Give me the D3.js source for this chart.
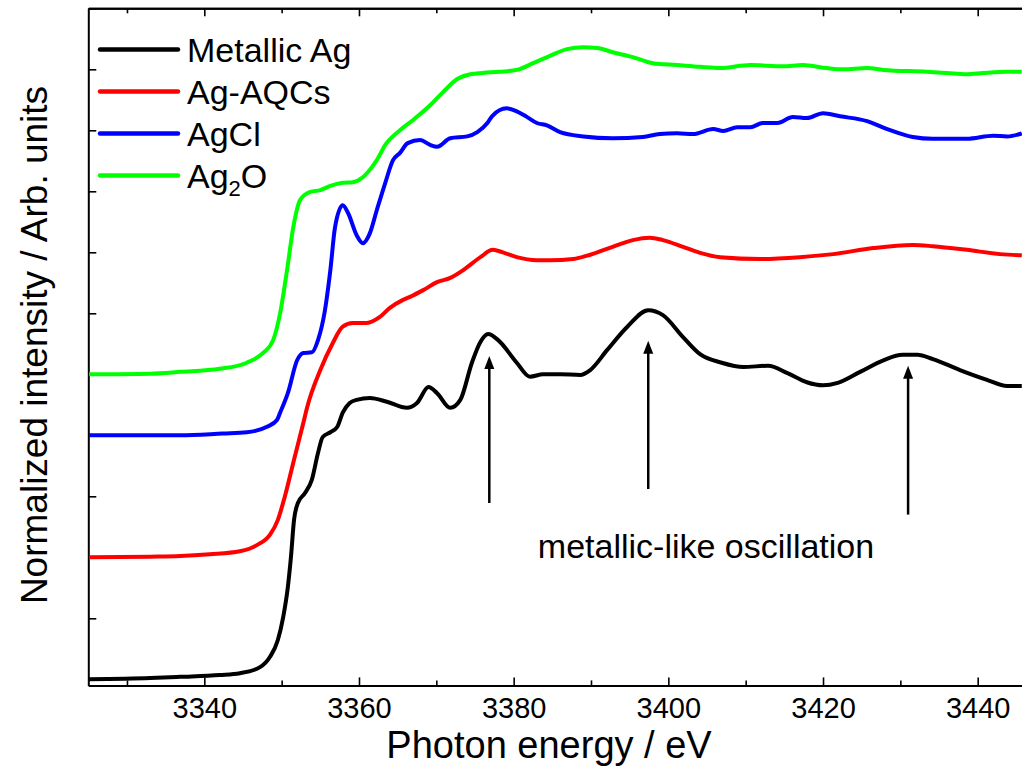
<!DOCTYPE html>
<html>
<head>
<meta charset="utf-8">
<script src="https://cdn.jsdelivr.net/npm/d3@7"></script>
<style>
  body { margin: 0; background: #fff; }
  text { font-family: "Liberation Sans", Arial, sans-serif; }
</style>
</head>
<body>
<div id="chart"></div>
<script>
// series names and colours
let seriesNames = ["Metallic Ag", "Ag-AQCs", "AgCl", "Ag2O"];
let seriesColors = ["#000000", "#ff0000", "#0000ff", "#00ff00"];

// photon energy (eV) / normalized intensity (offset, arb. units)
let agE = [3325.1,3333.0,3336.9,3342.0,3344.6,3347.2,3348.5,3349.5,3350.2,3350.8,3351.2,3351.6,3352.1,3353.0,3353.9,3354.7,3355.3,3356.3,3357.2,3357.9,3358.8,3359.7,3361.4,3363.6,3366.2,3367.5,3369.0,3370.1,3371.8,3373.1,3374.6,3375.7,3376.7,3378.0,3380.4,3382.1,3383.8,3386.0,3388.6,3389.9,3392.1,3394.7,3397.4,3399.3,3401.9,3404.1,3406.9,3409.7,3412.9,3415.4,3417.9,3420.0,3421.9,3424.8,3427.8,3430.3,3432.2,3434.2,3437.7,3441.2,3443.8,3445.7];
let agI = [0.00,0.02,0.04,0.07,0.10,0.20,0.37,0.64,1.02,1.51,2.00,2.61,2.89,3.05,3.27,3.71,3.97,4.05,4.14,4.37,4.53,4.58,4.61,4.55,4.45,4.53,4.79,4.69,4.45,4.58,5.19,5.53,5.66,5.56,5.19,4.96,5.00,5.00,4.99,5.07,5.40,5.78,6.05,5.97,5.61,5.33,5.19,5.12,5.14,5.02,4.87,4.82,4.86,5.04,5.23,5.32,5.32,5.25,5.07,4.91,4.81,4.81];

let aqcE = [3325.1,3333.0,3336.9,3340.7,3344.6,3346.8,3348.5,3349.5,3350.4,3351.6,3352.8,3353.3,3355.0,3356.6,3357.9,3359.2,3361.0,3362.7,3364.0,3365.7,3366.6,3368.3,3370.1,3371.8,3373.5,3375.7,3377.3,3378.6,3380.4,3383.0,3384.7,3387.7,3389.9,3392.8,3395.4,3397.6,3399.3,3401.9,3404.1,3406.7,3411.9,3417.0,3421.3,3426.5,3431.6,3434.2,3438.6,3442.9,3445.7];
let aqcI = [2.00,2.01,2.02,2.05,2.10,2.20,2.37,2.61,2.99,3.60,4.20,4.46,5.07,5.51,5.78,5.84,5.84,5.94,6.09,6.22,6.27,6.38,6.51,6.58,6.71,6.92,7.04,7.00,6.92,6.87,6.87,6.89,6.96,7.09,7.20,7.24,7.20,7.09,6.99,6.92,6.89,6.92,6.97,7.07,7.12,7.10,7.04,6.97,6.95];

let clE = [3325.1,3333.0,3336.9,3342.4,3345.5,3348.1,3349.4,3349.8,3350.8,3352.0,3352.8,3353.9,3354.7,3355.6,3356.3,3356.9,3357.9,3358.6,3359.7,3360.5,3361.4,3362.3,3363.4,3364.4,3365.3,3366.3,3367.9,3369.2,3370.1,3371.8,3374.0,3375.3,3376.6,3377.2,3379.1,3380.4,3381.7,3383.0,3384.3,3386.0,3389.0,3392.8,3396.7,3398.9,3401.1,3403.2,3405.8,3407.1,3408.9,3410.6,3412.2,3414.1,3416.1,3417.9,3420.0,3422.2,3425.7,3428.3,3431.6,3434.2,3438.6,3442.0,3443.8,3445.7];
let clI = [4.00,4.00,4.00,4.03,4.05,4.14,4.25,4.37,4.69,5.23,5.35,5.36,5.56,6.05,6.71,7.41,7.77,7.64,7.28,7.15,7.31,7.69,8.14,8.51,8.63,8.79,8.84,8.76,8.73,8.87,8.90,8.97,9.12,9.23,9.36,9.31,9.22,9.12,9.08,8.97,8.90,8.87,8.89,8.94,8.95,8.94,9.02,8.99,9.05,9.05,9.12,9.12,9.22,9.20,9.28,9.23,9.15,9.02,8.89,8.86,8.86,8.91,8.90,8.95];

let oxE = [3325.1,3333.0,3336.9,3342.0,3345.5,3347.6,3348.9,3349.8,3350.7,3351.5,3352.4,3353.7,3355.0,3356.3,3357.9,3359.2,3360.5,3361.7,3362.3,3363.4,3365.3,3367.0,3369.2,3370.9,3372.7,3374.4,3376.0,3378.2,3380.4,3382.5,3384.7,3386.9,3389.0,3390.8,3392.8,3395.4,3398.0,3401.1,3404.1,3406.7,3410.6,3414.8,3417.4,3420.5,3422.6,3425.7,3427.8,3433.4,3436.0,3438.6,3440.7,3443.8,3445.7];
let oxI = [5.00,5.01,5.04,5.09,5.19,5.35,5.56,6.00,6.71,7.41,7.86,7.99,8.02,8.09,8.14,8.15,8.23,8.40,8.51,8.76,9.00,9.17,9.41,9.63,9.84,9.92,9.94,9.96,9.99,10.10,10.22,10.33,10.36,10.35,10.28,10.20,10.10,10.07,10.04,10.02,10.07,10.05,10.07,10.02,10.00,10.02,9.99,9.96,9.94,9.92,9.94,9.96,9.96];

// arrows: energy, tail, tip
let arrowE = [3376.85, 3397.4, 3431.0];
let arrowFrom = [2.89, 3.12, 2.70];
let arrowTo = [5.30, 5.55, 5.14];

let xMajor = [3340, 3360, 3380, 3400, 3420, 3440];
let xMinor = [3330, 3350, 3370, 3390, 3410, 3430];
let yTicks = [0,1,2,3,4,5,6,7,8,9,10,11];

let viz = d3.select("#chart").append("svg")
    .attr("width", 1022)
    .attr("height", 771);

let x = d3.scaleLinear().domain([3325, 3446]).range([88.3, 1024.1]);
let y = d3.scaleLinear().domain([-0.1, 11]).range([685.4, 8.3]);

// axes, ticks pointing in
let xAxis = viz.append("g")
    .attr("transform", "translate(0," + y(-0.1) + ")")
    .call(d3.axisBottom(x).tickValues(xMajor).tickSize(-8).tickSizeOuter(0).tickPadding(12).tickFormat(d3.format("d")));
viz.append("g")
    .attr("transform", "translate(0," + y(-0.1) + ")")
    .call(d3.axisBottom(x).tickValues(xMinor).tickSize(-5).tickSizeOuter(0).tickFormat(""));
viz.append("g")
    .attr("transform", "translate(0," + y(11) + ")")
    .call(d3.axisTop(x).tickValues(xMajor).tickSize(-8).tickSizeOuter(0).tickFormat(""));
viz.append("g")
    .attr("transform", "translate(0," + y(11) + ")")
    .call(d3.axisTop(x).tickValues(xMinor).tickSize(-5).tickSizeOuter(0).tickFormat(""));
viz.append("g")
    .attr("transform", "translate(" + x(3325) + ",0)")
    .call(d3.axisLeft(y).tickValues(yTicks).tickSize(-8).tickSizeOuter(0).tickFormat(""));

viz.selectAll(".domain").attr("stroke", "#000").attr("stroke-width", 2);
viz.selectAll(".tick line").attr("stroke", "#000").attr("stroke-width", 1.6);
xAxis.selectAll("text")
    .attr("font-size", 29)
    .attr("fill", "#000")
    .style("font-family", "Liberation Sans, Arial, sans-serif");

// curves
let allE = [agE, aqcE, clE, oxE];
let allI = [agI, aqcI, clI, oxI];
let line = d3.line()
    .x(d => x(d[0]))
    .y(d => y(d[1]))
    .curve(d3.curveMonotoneX);

for (let k = 3; k >= 0; k--) {
  let pts = allE[k].map((e, i) => [e, allI[k][i]]);
  viz.append("path")
      .datum(pts)
      .attr("d", line)
      .attr("fill", "none")
      .attr("stroke", seriesColors[k])
      .attr("stroke-width", 4)
      .attr("stroke-linejoin", "round");
}

// arrows
arrowE.forEach((e, i) => {
  viz.append("line")
      .attr("x1", x(e)).attr("x2", x(e))
      .attr("y1", y(arrowFrom[i])).attr("y2", y(arrowTo[i]) + 10)
      .attr("stroke", "#000").attr("stroke-width", 2.5);
  viz.append("path")
      .attr("d", "M" + (x(e) - 5) + "," + (y(arrowTo[i]) + 13) + " L" + x(e) + "," + y(arrowTo[i]) + " L" + (x(e) + 5) + "," + (y(arrowTo[i]) + 13) + " Z")
      .attr("fill", "#000");
});

viz.append("text")
    .attr("x", 706).attr("y", 558)
    .attr("text-anchor", "middle")
    .attr("font-size", 34)
    .text("metallic-like oscillation");

// legend
seriesNames.forEach((name, i) => {
  let ly = 49.5 + i * 42;
  viz.append("line")
      .attr("x1", 100).attr("x2", 178)
      .attr("y1", ly).attr("y2", ly)
      .attr("stroke", seriesColors[i])
      .attr("stroke-width", 4.5)
      .attr("stroke-linecap", "round");
  let t = viz.append("text")
      .attr("x", 187).attr("y", ly + 12)
      .attr("font-size", 34);
  if (name === "Ag2O") {
    t.append("tspan").text("Ag");
    t.append("tspan").attr("font-size", 22).attr("dy", 8).text("2");
    t.append("tspan").attr("dy", -8).text("O");
  } else {
    t.text(name);
  }
});

// axis titles
viz.append("text")
    .attr("x", 549).attr("y", 758)
    .attr("text-anchor", "middle")
    .attr("font-size", 38)
    .text("Photon energy / eV");

viz.append("text")
    .attr("transform", "translate(47,345) rotate(-90)")
    .attr("text-anchor", "middle")
    .attr("font-size", 37)
    .text("Normalized intensity / Arb. units");
</script>
</body>
</html>
